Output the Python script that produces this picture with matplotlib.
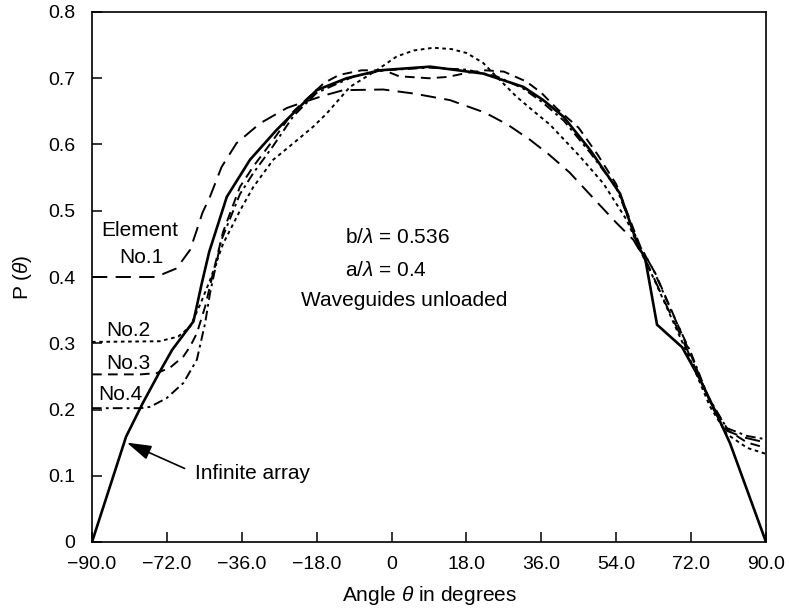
import matplotlib
matplotlib.use("Agg")
import matplotlib.pyplot as plt
import numpy as np

plt.rcParams['font.family'] = ['Liberation Sans', 'DejaVu Sans']
plt.rcParams['mathtext.fontset'] = 'custom'
plt.rcParams['mathtext.rm'] = 'Liberation Sans'
plt.rcParams['mathtext.it'] = 'Liberation Sans:italic'
plt.rcParams['lines.scale_dashes'] = False

# Tick labels (printed as on the original axis)
x_tick_labels = ['\u221290.0', '\u221272.0', '\u221236.0', '\u221218.0', '0',
                 '18.0', '36.0', '54.0', '72.0', '90.0']
y_tick_labels = ['0', '0.1', '0.2', '0.3', '0.4', '0.5', '0.6', '0.7', '0.8']

# Infinite array
inf_theta = [-90, -80.9, -76.5, -72.2, -68.6, -62.9, -60.7, -58.7, -54.0, -47.8,
             -40.7, -34.5, -30.0, -22.0, -13.1, 0.3, 14.5, 25.2, 30.5, 35.9,
             43.0, 51.0, 55.9, 57.7, 60.9, 67.6, 72.4, 76.5, 80.4, 90]
inf_p = [0.0, 0.159, 0.209, 0.254, 0.290, 0.333, 0.39, 0.438, 0.521, 0.577,
         0.622, 0.657, 0.682, 0.700, 0.712, 0.7175, 0.707, 0.687, 0.667, 0.642,
         0.592, 0.526, 0.446, 0.429, 0.328, 0.294, 0.245, 0.197, 0.149, 0.0]

# Element No.1
e1_theta = [-90, -73, -67.4, -63.8, -62.0, -60.5, -58.5, -55.4, -51.4, -45.1,
            -38.0, -34.5, -28.0, -22.9, -12.2, -4.2, 5.6, 15.0, 21.0, 27.0,
            32.0, 37.5, 45.7, 50.0, 54.6, 58.5, 63.0, 68.0, 72.5, 76.0,
            79.5, 84.0, 90]
e1_p = [0.400, 0.400, 0.413, 0.441, 0.471, 0.497, 0.521, 0.566, 0.602, 0.632,
        0.655, 0.662, 0.674, 0.682, 0.683, 0.677, 0.667, 0.648, 0.630, 0.607,
        0.585, 0.558, 0.508, 0.482, 0.456, 0.418, 0.362, 0.302, 0.245, 0.200,
        0.168, 0.158, 0.150]

# Element No.2
e2_theta = [-90, -72, -67, -63.8, -61.0, -58.5, -55.0, -50.5, -46.9, -41.6,
            -36.2, -30.9, -27.3, -21.1, -14.0, -8.6, -4.0, 1.2, 6.0, 10.1,
            14.5, 18.1, 23.4, 28.0, 32.3, 40.3, 46.6, 52.8, 56.0, 60.0,
            65.0, 70.0, 75.0, 79.5, 85.0, 90]
e2_p = [0.302, 0.303, 0.310, 0.325, 0.360, 0.395, 0.450, 0.500, 0.536, 0.577,
        0.602, 0.627, 0.647, 0.687, 0.712, 0.733, 0.742, 0.746, 0.744, 0.738,
        0.723, 0.702, 0.672, 0.650, 0.630, 0.582, 0.541, 0.486, 0.445, 0.398,
        0.335, 0.272, 0.205, 0.163, 0.142, 0.133]

# Element No.3
e3_theta = [-90, -77, -72.7, -69.2, -65.6, -63.8, -62.0, -59.8, -57.5, -55.0,
            -50.5, -46.9, -41.6, -36.2, -32.0, -28.0, -24.0, -18.0, -12.0, -8.0,
            0.0, 5.0, 10.0, 15.0, 20.0, 26.0, 30.0, 34.0, 40.0, 45.0,
            50.0, 56.5, 60.5, 65.5, 70.5, 75.0, 80.0, 85.0, 90]
e3_p = [0.253, 0.253, 0.255, 0.263, 0.280, 0.295, 0.315, 0.355, 0.410, 0.468,
        0.536, 0.567, 0.607, 0.650, 0.672, 0.693, 0.705, 0.712, 0.712, 0.703,
        0.700, 0.702, 0.708, 0.712, 0.710, 0.695, 0.678, 0.655, 0.625, 0.585,
        0.540, 0.445, 0.405, 0.340, 0.275, 0.212, 0.168, 0.150, 0.142]

# Element No.4
e4_theta = [-90, -77, -74.5, -70.1, -65.6, -62.0, -59.8, -58.5, -55.5, -50.5,
            -46.9, -41.6, -36.2, -30.0, -20.0, -12.0, 0.0, 10.0, 18.0, 25.0,
            30.0, 36.0, 43.0, 50.0, 56.0, 60.0, 65.0, 70.0, 74.5, 79.5,
            85.0, 90]
e4_p = [0.202, 0.202, 0.204, 0.217, 0.240, 0.275, 0.330, 0.375, 0.455, 0.525,
        0.557, 0.598, 0.643, 0.678, 0.703, 0.712, 0.716, 0.713, 0.703, 0.685,
        0.665, 0.636, 0.588, 0.535, 0.450, 0.410, 0.345, 0.285, 0.220, 0.172,
        0.160, 0.155]

fig = plt.figure(figsize=(7.89, 6.12), dpi=100)
ax = fig.add_axes([92 / 789, 70 / 612, 674 / 789, 530 / 612])

ax.plot(inf_theta, inf_p, color='black', lw=1.9, solid_joinstyle='miter')
ax.plot(e1_theta, e1_p, color='black', lw=1.4, linestyle=(0, (11, 6)))
ax.plot(e2_theta, e2_p, color='black', lw=1.4, linestyle=(0, (2.6, 2.6)))
ax.plot(e3_theta, e3_p, color='black', lw=1.4, linestyle=(0, (7, 4.5)))
ax.plot(e4_theta, e4_p, color='black', lw=1.4, linestyle=(0, (7, 3, 2, 3)))

ax.set_xlim(-90, 90)
ax.set_ylim(0, 0.8)
ax.set_xticks(np.linspace(-90, 90, len(x_tick_labels)))
ax.set_xticklabels(x_tick_labels)
ax.set_yticks(np.linspace(0, 0.8, len(y_tick_labels)))
ax.set_yticklabels(y_tick_labels)
ax.tick_params(direction='in', length=7, width=1.1, top=False, right=False,
               labelsize=14)
ax.tick_params(axis='x', pad=10)
ax.tick_params(axis='y', pad=12)
for s in ax.spines.values():
    s.set_linewidth(1.2)

ax.set_xlabel(r'Angle $\theta$ in degrees', fontsize=15, labelpad=8)
ax.set_ylabel(r'P ($\theta$)', fontsize=15, labelpad=10)

fs = 15
ax.text(-77.2, 0.470, 'Element', fontsize=fs, ha='center', va='center')
ax.text(-76.9, 0.430, 'No.1', fontsize=fs, ha='center', va='center')
ax.text(-80.4, 0.320, 'No.2', fontsize=fs, ha='center', va='center')
ax.text(-80.4, 0.270, 'No.3', fontsize=fs, ha='center', va='center')
ax.text(-82.3, 0.222, 'No.4', fontsize=fs, ha='center', va='center')
ax.text(-22.4, 0.460, r'b/$\lambda$ = 0.536', fontsize=fs, ha='left', va='center')
ax.text(-22.4, 0.410, r'a/$\lambda$ = 0.4', fontsize=fs, ha='left', va='center')
ax.text(-6.7, 0.365, 'Waveguides unloaded', fontsize=fs, ha='center', va='center')

ax.annotate('Infinite array', xy=(-80.7, 0.150), xytext=(-62.5, 0.104),
            fontsize=fs, ha='left', va='center',
            arrowprops=dict(arrowstyle='-|>,head_length=1.0,head_width=0.3',
                            color='black', lw=1.2, shrinkA=6, shrinkB=0,
                            relpos=(0, 0.5)))

fig.savefig('out.png', dpi=100)
